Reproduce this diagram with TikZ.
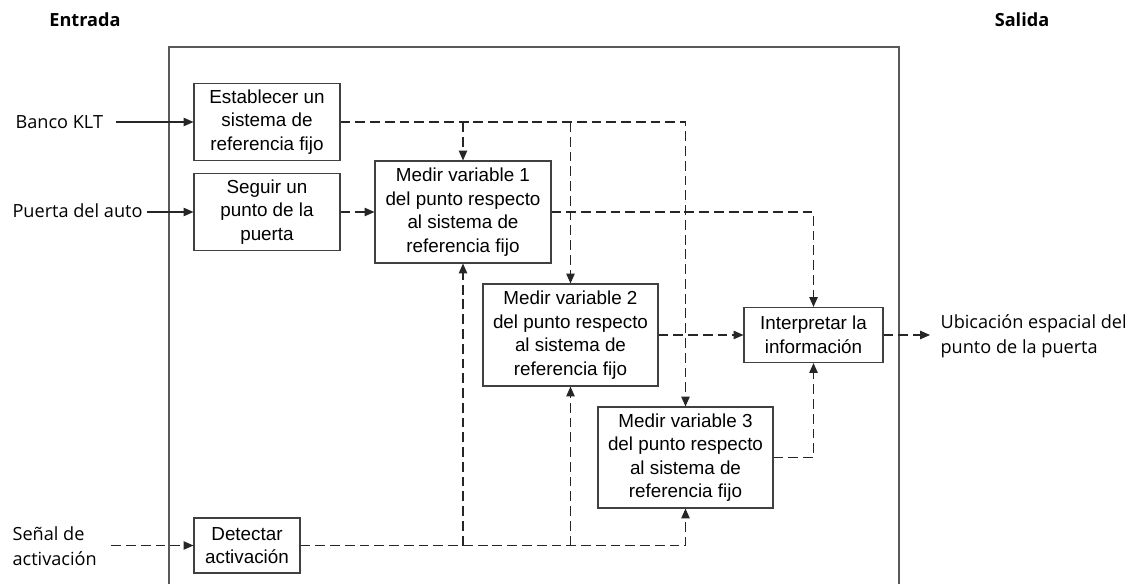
\documentclass[tikz,border=0pt]{standalone}
\usepackage{fontspec}
\setsansfont{Liberation Sans}
\newfontfamily\etqfont{Open Sans}
\usepackage{tikz}
\usetikzlibrary{positioning,calc,arrows.meta}

\begin{document}
\begin{tikzpicture}[->, >={Triangle[length=7pt,width=6pt]}, line width=0.8pt, black!85, blk/.style = {draw=black!75, fill=white, text=black, align=center, inner sep=0pt, font=\sffamily\fontsize{13.4}{16.7}\selectfont}, etq/.style = {align=left, inner sep=0pt, text=black, font=\etqfont\fontsize{12.9}{17.5}\selectfont}, flujo/.style = {dash pattern=on 7pt off 3.5pt}]

\useasboundingbox (0,0) rectangle (28.375,14.575);

% marco
\draw[-, black!65, line width=1pt] (4.225,-0.3) rectangle (22.475,13.4);

\node[etq, font=\etqfont\bfseries\fontsize{12.9}{15}\selectfont] (ent) at (2.125,14.075) {Entrada};
\node[etq, font=\etqfont\bfseries\fontsize{12.9}{15}\selectfont] (sal) at (25.55,14.075) {Salida};

\filldraw[black] (6.675,11.525) node[blk, minimum width=3.65cm, minimum height=1.925cm] (est) {Establecer un\\sistema de\\referencia fijo};
\filldraw[black] (6.675,9.275) node[blk, minimum width=3.65cm, minimum height=1.925cm] (seg) {Seguir un\\punto de la\\puerta};
\filldraw[black] (11.575,9.275) node[blk, minimum width=4.4cm, minimum height=2.55cm] (m1) {Medir variable 1\\del punto respecto\\al sistema de\\referencia fijo};
\filldraw[black] (14.2625,6.2) node[blk, minimum width=4.375cm, minimum height=2.55cm] (m2) {Medir variable 2\\del punto respecto\\al sistema de\\referencia fijo};
\filldraw[black] (17.1375,3.1375) node[blk, minimum width=4.375cm, minimum height=2.525cm] (m3) {Medir variable 3\\del punto respecto\\al sistema de\\referencia fijo};
\filldraw[black] (20.3375,6.2) node[blk, minimum width=3.475cm, minimum height=1.375cm] (int) {Interpretar la\\información};
\filldraw[black] (6.175,0.9375) node[blk, minimum width=2.65cm, minimum height=1.375cm] (det) {Detectar\\activación};

% entradas y salida
\node[etq, anchor=west] (banco) at (0.375,11.525) {Banco KLT};
\node[etq, anchor=west] (puerta) at (0.3,9.3) {Puerta del auto};
\node[etq, anchor=west] (senal) at (0.3,0.925) {Señal de\\activación};
\node[etq, anchor=west] (ubic) at (23.5,6.175) {Ubicación espacial del\\punto de la puerta};
\coordinate (uOut) at (23.25,6.2);

\draw[shorten <=9pt] (banco.east |- est.west) -- (est.west);
\draw[shorten <=3pt] (puerta.east |- seg.west) -- (seg.west);
\draw[flujo, shorten <=10pt] (senal.east |- det.west) -- (det.west);
\draw[flujo] (int.east) -- (uOut);

\path
 (seg) edge[flujo] (m1)
 (m2) edge[flujo] (int);

\draw[flujo] (est.east) -| (m3.north);
\draw[flujo] (m1.north |- est.east) -- (m1.north);
\draw[flujo] (m2.north |- est.east) -- (m2.north);
\draw[flujo] (m1.east) -| (int.north);
\draw[flujo] (m3.east) -| (int.south);
\draw[flujo] (det.east) -| (m3.south);
\draw[flujo] (m1.south |- det.east) -- (m1.south);
\draw[flujo] (m2.south |- det.east) -- (m2.south);
\end{tikzpicture}
\end{document}
